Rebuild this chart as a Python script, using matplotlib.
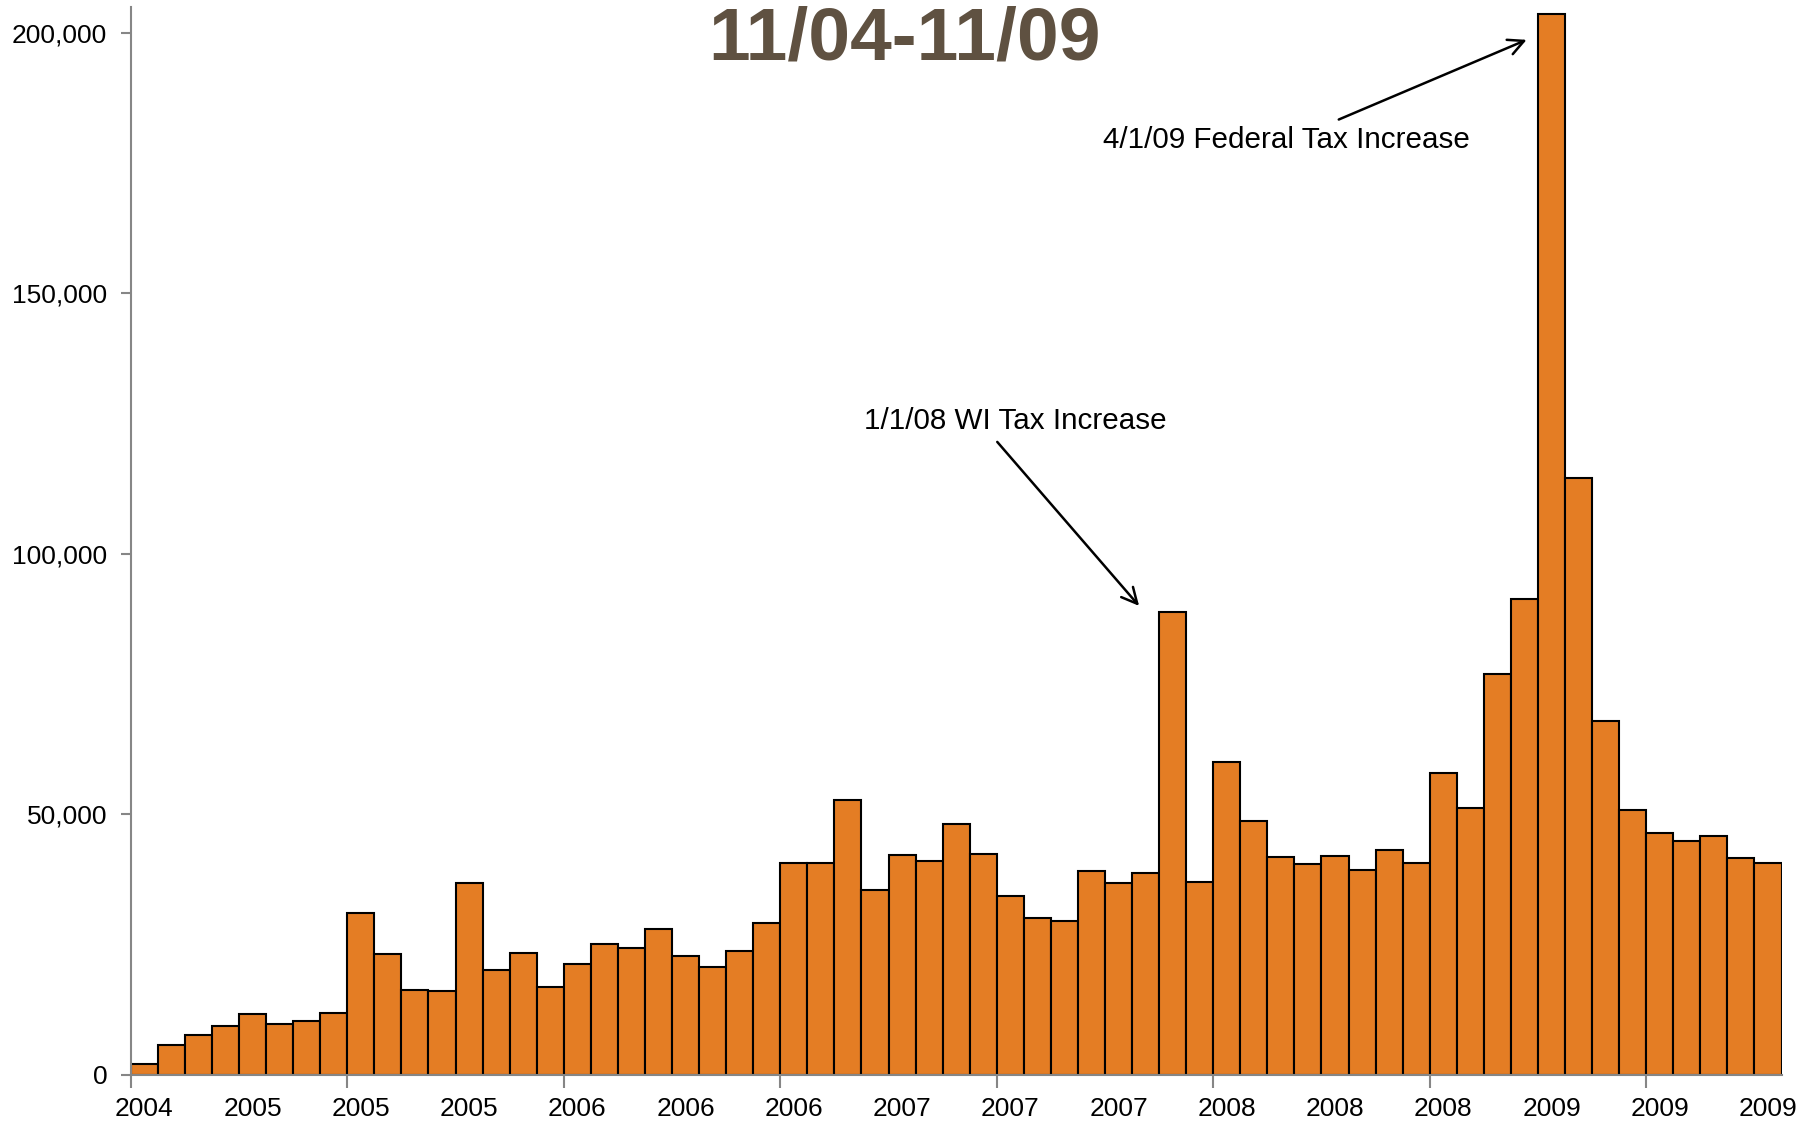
import matplotlib
matplotlib.use("Agg")
import matplotlib.pyplot as plt
import numpy as np
from matplotlib.ticker import FuncFormatter

plt.rcParams['font.family'] = ['Liberation Sans', 'DejaVu Sans']

title = "11/04-11/09"

# Monthly values, Nov 2004 .. Nov 2009
values = [
    2000, 5800, 7700, 9400, 11600, 9800, 10400, 11900,
    31000, 23200, 16200, 16100, 36900, 20200, 23300, 16900,
    21300, 25200, 24300, 27900, 22800, 20700, 23800, 29100,
    40600, 40700, 52700, 35400, 42100, 41000, 48100, 42400,
    34400, 30100, 29600, 39100, 36900, 38800, 88900, 37000,
    60000, 48800, 41800, 40400, 42000, 39400, 43100, 40600,
    57900, 51200, 76900, 91400, 203600, 114600, 67900, 50800,
    46400, 44800, 45800, 41700, 40700,
]

# Category labels shown every 4th month
label_idx = list(range(0, 61, 4))
label_text = ["2004", "2005", "2005", "2005", "2006", "2006", "2006", "2007",
              "2007", "2007", "2008", "2008", "2008", "2009", "2009", "2009"]

yticks = [0, 50000, 100000, 150000, 200000]

ann_wi = "1/1/08 WI Tax Increase"
ann_fed = "4/1/09 Federal Tax Increase"

fig = plt.figure(figsize=(18.14, 11.21), dpi=100)
ax = fig.add_axes([0.0721, 0.0412, 0.9100, 0.9528])

x = np.arange(len(values))
ax.bar(x, values, width=1.0, color='#E47D24', edgecolor='black', linewidth=1.5)

ax.set_xlim(-0.5, len(values) - 0.5)
ax.set_ylim(0, 205000)

ax.set_yticks(yticks)
ax.yaxis.set_major_formatter(FuncFormatter(lambda v, p: f"{int(v):,}"))
ax.set_xticks(label_idx)
ax.set_xticklabels(label_text)
ax.set_xticks(np.arange(-0.5, len(values) - 0.5, 8), minor=True)

ax.tick_params(axis='x', which='major', length=0, pad=16, labelsize=19)
ax.tick_params(axis='x', which='minor', length=9, width=1.5, color='#868686')
ax.tick_params(axis='y', length=7, width=1.5, color='#868686', pad=10, labelsize=19)

for s in ['top', 'right']:
    ax.spines[s].set_visible(False)
for s in ['left', 'bottom']:
    ax.spines[s].set_color('#868686')
    ax.spines[s].set_linewidth(1.5)

fig.text(0.4985, 0.9465, title, ha='center', va='baseline', fontsize=54,
         fontweight='bold', color='#5F5141')

ax.annotate(ann_wi, xy=(36.76, 90000), xytext=(32.19, 125500),
            ha='center', va='center', fontsize=21.3,
            arrowprops=dict(arrowstyle='->', color='black', lw=1.8,
                            mutation_scale=28, shrinkA=4, shrinkB=0,
                            relpos=(0.42, 0.0)))
ax.annotate(ann_fed, xy=(51.08, 198650), xytext=(42.21, 179400),
            ha='center', va='center', fontsize=21.3,
            arrowprops=dict(arrowstyle='->', color='black', lw=1.8,
                            mutation_scale=28, shrinkA=7, shrinkB=0,
                            relpos=(0.6, 1.0)))

fig.savefig("out.png", dpi=100, facecolor='white')
